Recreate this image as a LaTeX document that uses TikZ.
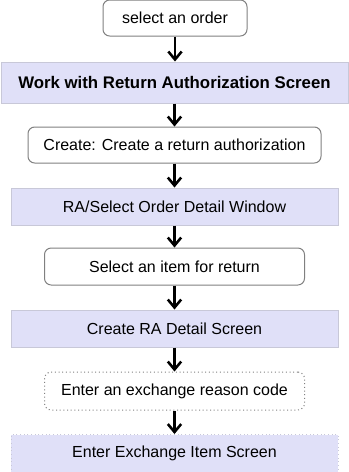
\documentclass[tikz,border=0pt]{standalone}
\usepackage{fontspec}
\setmainfont{Liberation Sans}
\usetikzlibrary{arrows.meta,positioning}
\definecolor{scrfill}{HTML}{E0E0F8}
\definecolor{scrline}{HTML}{C8C8D8}
\definecolor{stpline}{HTML}{808080}
\tikzset{
  blk/.style={draw,rectangle,inner sep=0pt,line width=0.75pt,align=center,font=\fontsize{12}{14}\selectfont},
  stepbox/.style={blk,rounded corners=5pt,fill=white,draw=stpline,minimum height=27pt},
  scrbox/.style={blk,fill=scrfill,draw=scrline,minimum width=245.25pt,minimum height=27.75pt},
  optbox/.style={dotted},
  arr/.style={-{Straight Barb[length=6pt,width=10pt]},line width=1.9pt}
}
\begin{document}
\begin{tikzpicture}[x=0.75pt,y=-0.75pt]
  \useasboundingbox (0,0) rectangle (349,472);

  \node[stepbox,minimum width=108pt] (sel) at (175,18) {select an order};
  \node[scrbox,minimum width=260.25pt,minimum height=30.75pt,font=\fontsize{12.6}{14}\selectfont\bfseries] (wrk) at (174.5,82.5) {Work with Return Authorization Screen};
  \node[stepbox,minimum width=219.75pt] (crt) at (174.5,145) {Create: Create a return authorization};
  \node[scrbox] (rasel) at (174.5,206.5) {RA/Select Order Detail Window};
  \node[stepbox,minimum width=195pt,minimum height=27.75pt] (item) at (174.5,266.5) {Select an item for return};
  \node[scrbox] (radet) at (174.5,328.5) {Create RA Detail Screen};
  \node[stepbox,optbox,minimum width=195pt,minimum height=28.5pt] (rsn) at (174.5,391) {Enter an exchange reason code};
  \node[scrbox,optbox,minimum height=28.5pt] (exch) at (174.5,453.5) {Enter Exchange Item Screen};

  \draw[arr] (sel.south) -- (sel.south |- wrk.north);
  \draw[arr] (wrk.south) -- (crt.north);
  \draw[arr] (crt.south) -- (rasel.north);
  \draw[arr] (rasel.south) -- (item.north);
  \draw[arr] (item.south) -- (radet.north);
  \draw[arr] (radet.south) -- (rsn.north);
  \draw[arr] (rsn.south) -- (exch.north);
\end{tikzpicture}
\end{document}
